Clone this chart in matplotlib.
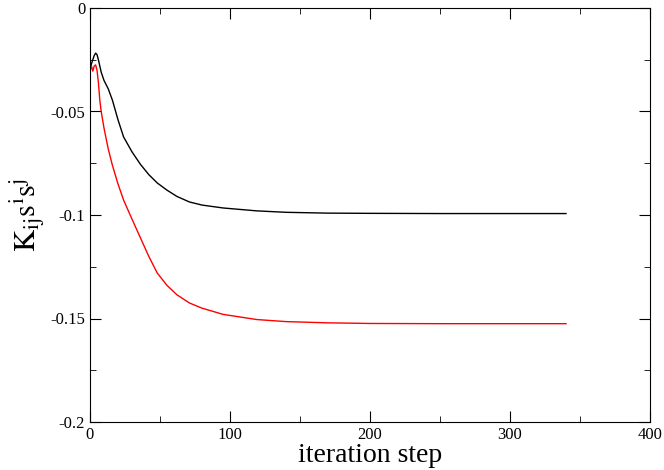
import matplotlib
matplotlib.use("Agg")
import matplotlib.pyplot as plt
from matplotlib.ticker import MultipleLocator

plt.rcParams['font.family'] = ['Liberation Serif']
plt.rcParams['mathtext.fontset'] = 'stix'

steps = [0, 1, 2, 3, 4, 5, 6, 7, 8, 10, 13, 16, 20, 24, 30, 36, 42, 48, 55, 62, 71, 80, 95,
         119, 140, 170, 200, 250, 300, 340]
black = [-0.031, -0.027, -0.025, -0.023, -0.0218, -0.0225, -0.025, -0.028, -0.031, -0.035, -0.039,
         -0.0445, -0.054, -0.0623, -0.0695, -0.0755, -0.0805, -0.0845, -0.0880, -0.0910, -0.0937,
         -0.0952, -0.0966, -0.0980, -0.0987, -0.0991, -0.0992, -0.0993, -0.0993, -0.0993]
red = [-0.030, -0.028, -0.0305, -0.028, -0.0275, -0.030, -0.036, -0.0445, -0.050, -0.058, -0.068,
       -0.076, -0.085, -0.0928, -0.1020, -0.1110, -0.1200, -0.1280, -0.1340, -0.1385, -0.1425,
       -0.1450, -0.1480, -0.1505, -0.1515, -0.1521, -0.1524, -0.1525, -0.1525, -0.1525]

fig = plt.figure(figsize=(6.64, 4.70), dpi=100)
ax = fig.add_axes([90/664, 48/470, 560/664, 414/470])
ax.plot(steps, black, color='black', lw=1)
ax.plot(steps, red, color='red', lw=1)
ax.set_xlim(0, 400)
ax.set_ylim(-0.2, 0)
ax.xaxis.set_minor_locator(MultipleLocator(50))
ax.yaxis.set_minor_locator(MultipleLocator(0.025))
ax.set_xticks([0, 100, 200, 300, 400])
ax.set_xticklabels(['0', '100', '200', '300', '400'])
ax.set_yticks([0, -0.05, -0.1, -0.15, -0.2])
ax.set_yticklabels(['0', '-0.05', '-0.1', '-0.15', '-0.2'])
ax.tick_params(which='both', direction='in', top=True, right=True, labelsize=12)
ax.tick_params(which='major', length=8)
ax.tick_params(which='minor', length=4)
ax.set_xlabel('iteration step', fontsize=20, labelpad=0)
ax.set_ylabel(r'$\mathrm{K_{ij}s^i s^j}$', fontsize=22, labelpad=2)
fig.savefig('out.png', dpi=100)
